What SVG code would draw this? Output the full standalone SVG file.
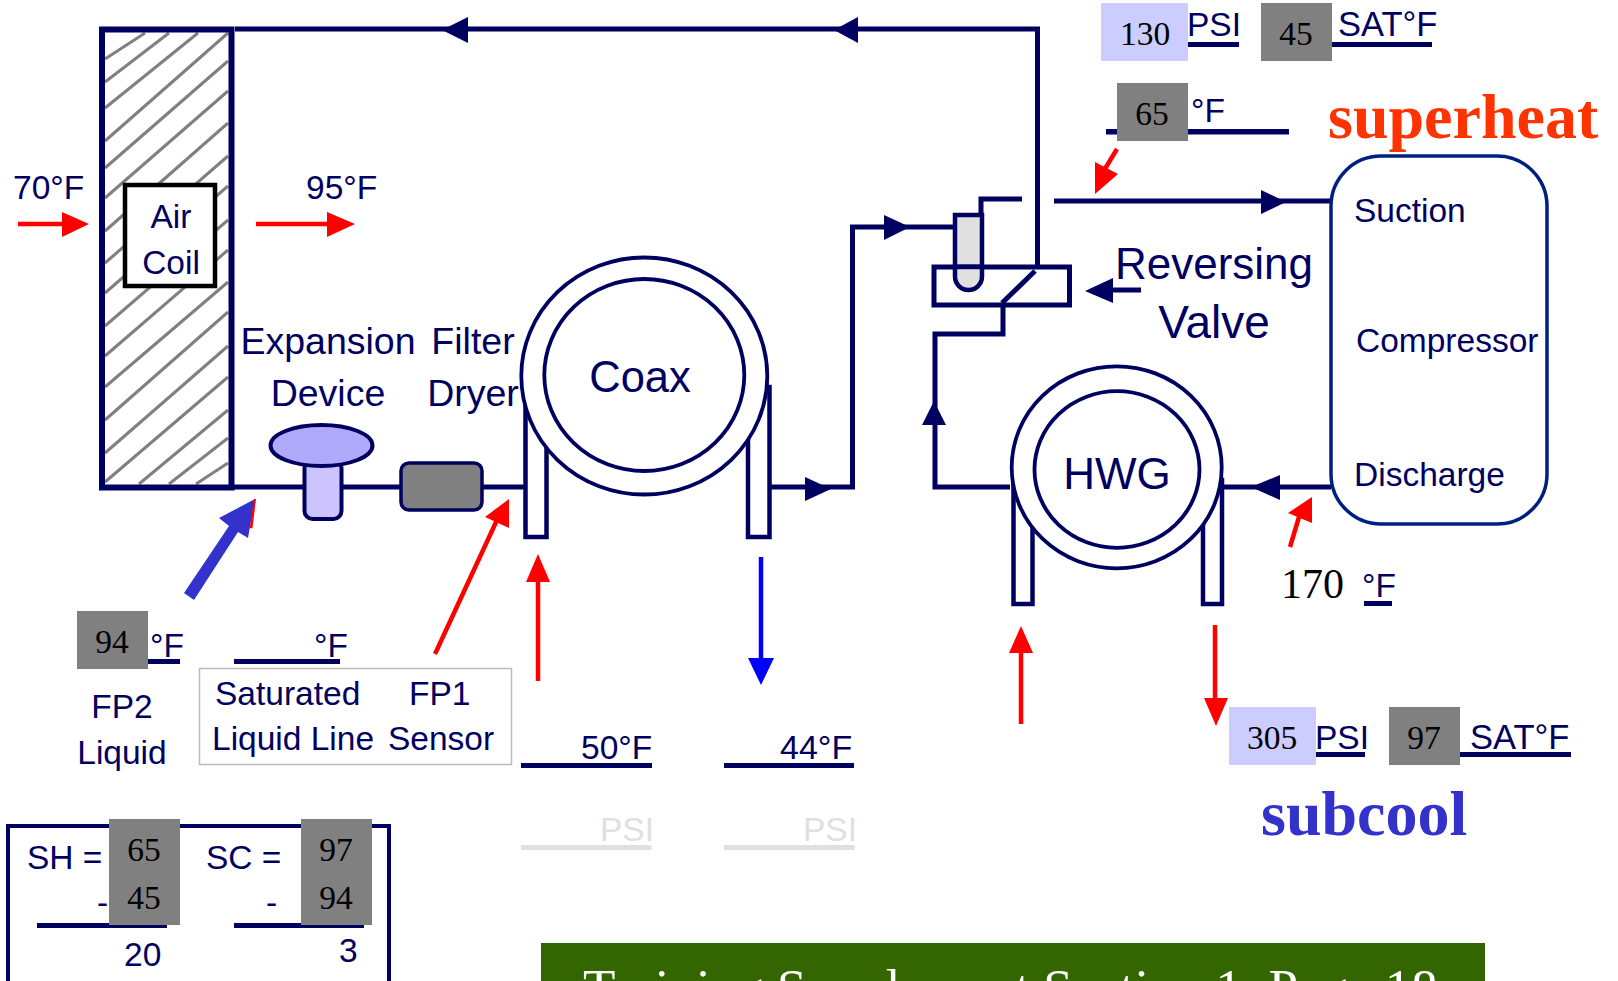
<svg xmlns="http://www.w3.org/2000/svg" width="1618" height="981" viewBox="0 0 1618 981">
<style>
text{font-family:"Liberation Sans",Arial,sans-serif;fill:#000060;font-size:33.500px}
.c{text-anchor:middle}
.s{font-family:"Liberation Serif","Times New Roman",serif;fill:#000}
.g{fill:#808080}
.l{fill:#ccccff}
.p{fill:none;stroke:#000060;stroke-width:5}
.u{fill:#000060}
.h{stroke:#808080;stroke-width:3;fill:none}
.r{stroke:#f00;stroke-width:4.500;fill:none}
.rf{fill:#f00}
.nv{fill:#000060}
.w{fill:#fff;stroke:#000060;stroke-width:4.500}
.lg{fill:#e0e0e0}
.big{font-size:37.500px}
.o{fill:#fff;stroke:#000060;stroke-width:3.800}
</style>
<rect width="1618" height="981" fill="#fff"/>
<g id="air-coil">
<path class="h" d="M105 59L145 33M105 82L169 33M105 108L198 33M105 141L228 33M105 168L228 61M105 198L228 91M105 231L228 123M105 263L228 156M105 293L228 186M105 326L228 220M105 356L228 250M105 387L228 282M105 420L228 312M105 453L228 346M105 482L228 377M139 484L228 410M169 484L228 438M196 484L228 463"/>
<rect x="102" y="29.500" width="129.500" height="458" fill="none" stroke="#000060" stroke-width="6"/>
<rect x="125" y="185" width="90" height="101" fill="#fff" stroke="#000" stroke-width="4.500"/>
<text class="c" x="171" y="228">Air</text>
<text class="c" x="171" y="274">Coil</text>
</g>
<g id="connectors">
<path class="p" d="M235 29H1037.500V266"/>
<path class="p" d="M234 487H524"/>
<path class="p" d="M771 487H852.500V227H955"/>
<path class="p" d="M981 265V199H1022"/>
<path class="p" d="M1054 201H1331"/>
<path class="p" d="M1003 305V334H935V487H1010"/>
<path class="p" d="M1224 487H1331"/>
<path class="nv" d="M442 30L468 17V43Z"/>
<path class="nv" d="M834 30L858 17V43Z"/>
<path class="nv" d="M910 227L884 215V240Z"/>
<path class="nv" d="M1286 202L1261 190V214Z"/>
<path class="nv" d="M934 401L922 425H946Z"/>
<path class="nv" d="M831 489L805 477V501Z"/>
<path class="nv" d="M1251 487L1280 475V500Z"/>
<path class="nv" d="M1085 291L1113 278V303Z"/>
<path class="p" d="M1110 290H1141"/>
</g>
<g id="expansion-device">
<rect x="304.500" y="460" width="37" height="59" rx="8" fill="#ccc4ff" stroke="#000060" stroke-width="4"/>
<ellipse cx="321.500" cy="445.500" rx="51" ry="20.500" fill="#b0a8f8" stroke="#000060" stroke-width="4"/>
<text class="c big" x="328" y="354">Expansion</text>
<text class="c big" x="328" y="406">Device</text>
</g>
<g id="filter-dryer">
<rect x="401" y="463" width="81" height="47" rx="8" fill="#808080" stroke="#000060" stroke-width="3.500"/>
<text class="c big" x="473" y="354">Filter</text>
<text class="c big" x="473" y="406">Dryer</text>
</g>
<g id="coax">
<rect class="w" x="525.500" y="400" width="21" height="137"/>
<rect class="w" x="748" y="387" width="21.500" height="150"/>
<ellipse class="o" cx="644.300" cy="376" rx="123" ry="118.500"/>
<ellipse class="o" cx="644.300" cy="375" rx="100" ry="96"/>
<text class="c" x="640" y="392" style="font-size:43.500px">Coax</text>
</g>
<g id="hwg">
<rect class="w" x="1013.500" y="480" width="19" height="124"/>
<rect class="w" x="1203" y="480" width="19" height="124"/>
<ellipse class="o" cx="1116.700" cy="467.300" rx="105" ry="101"/>
<ellipse class="o" cx="1117" cy="469.500" rx="82.500" ry="78.300"/>
<text class="c" x="1117" y="489" style="font-size:44px">HWG</text>
</g>
<g id="reversing-valve">
<rect x="955" y="215" width="27" height="52" fill="#e0e0e0" stroke="#000060" stroke-width="4.500"/>
<rect x="934" y="267" width="135.500" height="38" fill="#fff" stroke="#000060" stroke-width="5"/>
<path d="M955 267V276.500A13.500 13.500 0 0 0 982 276.500V267Z" fill="#e0e0e0" stroke="#000060" stroke-width="4.500"/>
<path class="p" d="M1035 271L1002 303"/>
<text class="c" x="1214" y="279" style="font-size:44px">Reversing</text>
<text class="c" x="1214" y="338" style="font-size:46px">Valve</text>
</g>
<g id="compressor">
<rect x="1331" y="156" width="216" height="368" rx="50" fill="#fff" stroke="#002080" stroke-width="3.500"/>
<text x="1354" y="222">Suction</text>
<text x="1356" y="352">Compressor</text>
<text x="1354" y="486">Discharge</text>
</g>
<g id="arrows">
<path class="r" d="M18 224H70"/><path class="rf" d="M89 224L62 212V237Z"/>
<path class="r" d="M256 224H330"/><path class="rf" d="M355 224L327 212V237Z"/>
<text x="13" y="199">70°F</text>
<text x="306" y="199">95°F</text>
<path fill="#3333cc" d="M255 499L219 518L229 526L184 593L194 600L238 532L248 538Z"/>
<path fill="#f00" d="M254 499L256 499L252.400 528.600L249.700 528Z"/>
<path class="r" d="M435 654L497 520"/><path class="rf" d="M509 499L485 517L509 528Z"/>
<path class="r" d="M538 681V580"/><path class="rf" d="M538 554L526 582H550Z"/>
<path d="M761 557V660" fill="none" stroke="#00f" stroke-width="4.500"/><path fill="#00f" d="M761 685L748 658H774Z"/>
<path class="r" d="M1021 724V650"/><path class="rf" d="M1021 626L1009 653H1033Z"/>
<path class="r" d="M1215 625V700"/><path class="rf" d="M1216 726L1204 698H1228Z"/>
<path class="r" d="M1117 149L1103 172"/><path class="rf" d="M1095 194L1095 162L1118 174Z"/>
<path class="r" d="M1290 547L1299 517"/><path class="rf" d="M1312 497L1288 513L1312 523Z"/>
</g>
<g id="readings">
<rect class="l" x="1101" y="3" width="87" height="58"/>
<text class="s c" x="1145" y="45">130</text>
<text x="1187" y="36">PSI</text>
<rect class="u" x="1188" y="42" width="51" height="5"/>
<rect class="g" x="1261" y="3" width="71" height="58"/>
<text class="s c" x="1296" y="45">45</text>
<text x="1338" y="36" style="font-size:34.500px">SAT°F</text>
<rect class="u" x="1332" y="42" width="100" height="5"/>
<rect class="u" x="1106" y="129" width="183" height="5.500"/>
<rect class="g" x="1117" y="83" width="71" height="58"/>
<text class="s c" x="1152" y="125">65</text>
<text x="1191" y="122">°F</text>
<text x="1328" y="138" style="font-family:'Liberation Serif',serif;font-weight:bold;font-size:64px;fill:#ff3300">superheat</text>
<text class="s" x="1281" y="598" style="font-size:42px">170</text>
<text x="1362" y="597">°F</text>
<rect class="u" x="1364" y="601" width="28" height="5"/>
<rect class="u" x="521" y="763" width="131" height="5"/>
<text x="581" y="759">50°F</text>
<rect class="u" x="724" y="763" width="130" height="5"/>
<text x="780" y="759" style="font-size:34px">44°F</text>
<rect class="lg" x="521" y="845" width="130.500" height="5"/>
<text x="600" y="841" style="fill:#e0e0e0">PSI</text>
<rect class="lg" x="724" y="845" width="130.500" height="5"/>
<text x="803" y="841" style="fill:#e0e0e0">PSI</text>
<rect class="l" x="1229" y="707" width="87" height="58"/>
<text class="s c" x="1272" y="749">305</text>
<rect class="u" x="1316" y="752" width="49" height="5"/>
<text x="1315" y="749">PSI</text>
<rect class="g" x="1389" y="707" width="71" height="58"/>
<text class="s c" x="1424" y="749">97</text>
<rect class="u" x="1460" y="752" width="111" height="5"/>
<text x="1470" y="749" style="font-size:34.500px">SAT°F</text>
<text x="1261" y="835" style="font-family:'Liberation Serif',serif;font-weight:bold;font-size:64px;fill:#3333cc">subcool</text>
</g>
<g id="fp-labels">
<rect class="g" x="77" y="611" width="71" height="58"/>
<text class="s c" x="112" y="653">94</text>
<rect class="u" x="148" y="659" width="32" height="5"/>
<text x="150" y="657">°F</text>
<rect class="u" x="234" y="659" width="106" height="5"/>
<text x="314" y="657">°F</text>
<rect x="199.500" y="668.500" width="312" height="96" fill="#fff" stroke="#bbb" stroke-width="1.500"/>
<text x="215" y="705">Saturated</text>
<text x="409" y="705">FP1</text>
<text x="212" y="750">Liquid Line</text>
<text x="388" y="750">Sensor</text>
<text class="c" x="122" y="718">FP2</text>
<text class="c" x="122" y="764">Liquid</text>
</g>
<g id="sh-sc-box">
<rect x="8" y="826" width="381" height="160" fill="#fff" stroke="#000060" stroke-width="4"/>
<rect class="u" x="37" y="923" width="130" height="5"/>
<rect class="u" x="234" y="923" width="130" height="5"/>
<rect class="g" x="109" y="819" width="71" height="106"/>
<rect class="g" x="301" y="819" width="71" height="106"/>
<text x="27" y="869">SH =</text>
<text x="206" y="869">SC =</text>
<text class="s c" x="144" y="861">65</text>
<text class="s c" x="144" y="909">45</text>
<text class="s c" x="336" y="861">97</text>
<text class="s c" x="336" y="909">94</text>
<text x="97" y="914">-</text>
<text x="266" y="914">-</text>
<text x="124" y="966">20</text>
<text x="339" y="962">3</text>
</g>
<g id="footer">
<rect x="541" y="943" width="944" height="38" fill="#336600"/>
<text x="583" y="1006" style="font-family:'Liberation Serif',serif;font-size:53px;fill:#fff">Training Supplement Section 1, Page 18</text>
</g>
</svg>
